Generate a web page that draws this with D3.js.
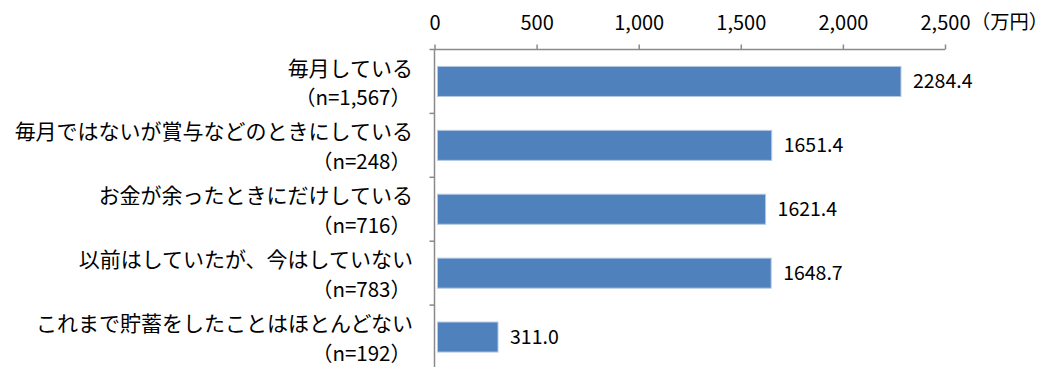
<!DOCTYPE html>
<html><head><meta charset="utf-8">
<script src="https://cdn.jsdelivr.net/npm/d3@7/dist/d3.min.js"></script>
<style>
html,body{margin:0;padding:0;background:#fff;}
svg text{font-family:"Noto Sans CJK JP","Noto Sans",sans-serif;fill:#000;}
</style></head>
<body>
<svg id="chart" width="1048" height="367"></svg>
<script>
const categories = ["毎月している","毎月ではないが賞与などのときにしている","お金が余ったときにだけしている","以前はしていたが、今はしていない","これまで貯蓄をしたことはほとんどない"];
const counts = ["（n=1,567）","（n=248）","（n=716）","（n=783）","（n=192）"];
const values = [2284.4, 1651.4, 1621.4, 1648.7, 311.0];
const tickValues = [0, 500, 1000, 1500, 2000, 2500];
const unitLabel = "（万円）";

const svg = d3.select("#chart");
const x = d3.scaleLinear().domain([0, 2500]).range([434.5, 945]);
const y = d3.scaleBand().domain(categories).range([49.5, 369]).paddingInner(0.53).paddingOuter(0.265);
const axisColor = "#8a8a8a";

// bars
svg.selectAll("rect.bar").data(values).join("rect")
  .attr("class","bar")
  .attr("x", x(0) + 3)
  .attr("y", (d,i) => y(categories[i]))
  .attr("width", d => x(d) - x(0) - 3)
  .attr("height", y.bandwidth())
  .attr("fill", "#4f81bd")
  .attr("stroke", "#b4c9e3")
  .attr("stroke-width", 1);

// value labels
svg.selectAll("text.val").data(values).join("text")
  .attr("class","val")
  .attr("x", d => x(d) + 12)
  .attr("y", (d,i) => y(categories[i]) + y.bandwidth()/2)
  .attr("dy", "0.36em")
  .attr("font-size", 19.5)
  .text(d => d.toFixed(1));

// top axis
const xAxis = d3.axisTop(x).tickValues(tickValues).tickSize(5).tickPadding(14.5)
  .tickFormat(d3.format(","));
const gx = svg.append("g").attr("transform", "translate(0,49.5)").call(xAxis);
gx.select(".domain").attr("stroke", axisColor).attr("stroke-width", 1.5).attr("d", `M${x(0)},0H${x(2500)}`);
gx.selectAll(".tick line").attr("stroke", axisColor).attr("stroke-width", 1.5);
gx.selectAll(".tick text").attr("font-size", 20).attr("fill", "#000")
  .style("font-family", '"Noto Sans CJK JP","Noto Sans",sans-serif');

// unit label
svg.append("text").attr("x", x(2500) + 26).attr("y", 22.5).attr("dy","0.36em")
  .attr("font-size", 19.25).text(unitLabel);

// vertical category axis
const bandStep = y.step();
svg.append("line").attr("x1", x(0)).attr("x2", x(0)).attr("y1", 49.5).attr("y2", 367)
  .attr("stroke", axisColor).attr("stroke-width", 1.5);
svg.selectAll("line.ctick").data(categories).join("line")
  .attr("class","ctick")
  .attr("x1", x(0) - 5).attr("x2", x(0))
  .attr("y1", (d) => y(d) - (bandStep - y.bandwidth())/2)
  .attr("y2", (d) => y(d) - (bandStep - y.bandwidth())/2)
  .attr("stroke", axisColor).attr("stroke-width", 1.5);

// category labels
svg.selectAll("text.cat").data(categories).join("text")
  .attr("class","cat")
  .attr("x", 413)
  .attr("y", d => y(d) + y.bandwidth()/2 - 13.5)
  .attr("dy","0.36em")
  .attr("text-anchor","end")
  .attr("font-size", 21)
  .text(d => d);
svg.selectAll("text.cnt").data(counts).join("text")
  .attr("class","cnt")
  .attr("x", 411)
  .attr("y", (d,i) => y(categories[i]) + y.bandwidth()/2 + 16.5)
  .attr("dy","0.36em")
  .attr("text-anchor","end")
  .attr("font-size", 20.5)
  .text(d => d);
</script>
</body></html>
